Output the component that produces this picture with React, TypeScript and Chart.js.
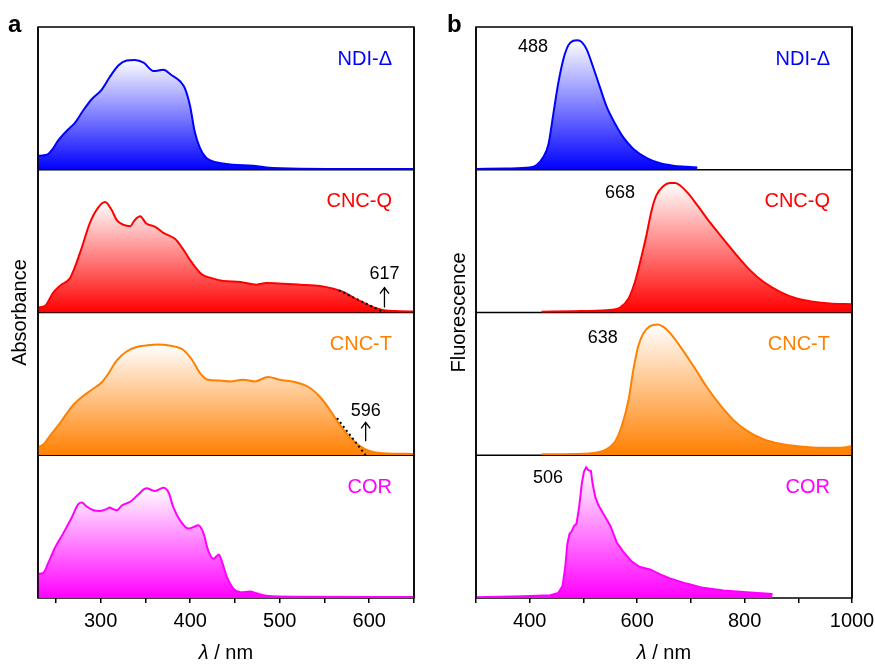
import React, { useEffect, useRef } from 'react';
import { Chart, registerables } from 'chart.js';
Chart.register(...registerables);

const FONT = '"Liberation Sans", Arial, Helvetica, sans-serif';

// ---------- Panel a : absorbance ----------
const absNdiX = [230, 240, 247, 252, 258, 265, 271, 281, 290, 301, 310, 320, 329, 338, 348, 359, 370, 379, 389, 394, 400, 405, 411, 418, 430, 448, 470, 485, 523, 560, 600, 650];
const absNdiY = [0.098, 0.105, 0.15, 0.2, 0.245, 0.29, 0.326, 0.42, 0.494, 0.56, 0.648, 0.732, 0.765, 0.769, 0.75, 0.692, 0.70, 0.664, 0.618, 0.571, 0.443, 0.268, 0.152, 0.082, 0.051, 0.035, 0.028, 0.016, 0.007, 0.006, 0.005, 0.005];

const absQX = [230, 238, 247, 255, 266, 277, 288, 297, 305, 312, 318, 325, 333, 338, 344, 351, 361, 370, 383, 391, 402, 413, 422, 437, 456, 474, 485, 504, 523, 545, 560, 571, 582, 593, 605, 616, 634, 650];
const absQY = [0.035, 0.047, 0.14, 0.19, 0.244, 0.419, 0.628, 0.733, 0.774, 0.721, 0.647, 0.616, 0.605, 0.647, 0.674, 0.623, 0.6, 0.558, 0.516, 0.453, 0.349, 0.267, 0.244, 0.221, 0.214, 0.195, 0.207, 0.202, 0.195, 0.186, 0.167, 0.144, 0.105, 0.07, 0.035, 0.016, 0.009, 0.007];

const absTX = [230, 236, 243, 256, 268, 279, 290, 301, 309, 318, 329, 340, 351, 364, 378, 392, 402, 411, 420, 433, 445, 459, 472, 487, 500, 519, 534, 545, 556, 567, 579, 590, 601, 616, 650];
const absTY = [0.058, 0.075, 0.133, 0.238, 0.343, 0.408, 0.459, 0.51, 0.576, 0.664, 0.727, 0.758, 0.769, 0.776, 0.767, 0.739, 0.669, 0.576, 0.529, 0.524, 0.517, 0.529, 0.517, 0.548, 0.529, 0.51, 0.471, 0.408, 0.319, 0.214, 0.121, 0.063, 0.028, 0.014, 0.009];

const absCorX = [230, 236, 241, 249, 258, 268, 275, 279, 284, 292, 299, 307, 310, 314, 318, 324, 333, 342, 351, 361, 370, 376, 381, 389, 398, 404, 409, 415, 420, 426, 432, 435, 441, 448, 456, 467, 474, 485, 523, 650];
const absCorY = [0.169, 0.176, 0.239, 0.352, 0.451, 0.568, 0.657, 0.669, 0.643, 0.615, 0.61, 0.624, 0.634, 0.622, 0.615, 0.65, 0.674, 0.725, 0.768, 0.749, 0.772, 0.737, 0.638, 0.54, 0.486, 0.498, 0.509, 0.451, 0.333, 0.275, 0.305, 0.263, 0.146, 0.068, 0.04, 0.045, 0.033, 0.016, 0.009, 0.007];

// onset tangents (dotted) and onset markers
const tanQX = [566, 617];
const tanQY = [0.155, 0];
const tanTX = [564, 596];
const tanTY = [0.26, 0];
const onsetQ = { x: 617, from: 0.035, to: 0.175, labelY: 0.27, text: '617' };
const onsetT = { x: 596, from: 0.098, to: 0.23, labelY: 0.31, text: '596' };

const absTickValues = [250, 300, 350, 400, 450, 500, 550, 600, 650];
const absTickLabels = [300, 400, 500, 600];

// ---------- Panel b : fluorescence ----------
const fluNdiX = [300, 357, 400, 413, 425, 435, 444, 453, 463, 472, 481, 489, 497, 506, 518, 531, 543, 559, 574, 593, 618, 643, 667, 692, 712];
const fluNdiY = [0.005, 0.009, 0.016, 0.033, 0.087, 0.18, 0.392, 0.603, 0.779, 0.873, 0.904, 0.908, 0.894, 0.843, 0.72, 0.575, 0.444, 0.322, 0.228, 0.146, 0.082, 0.045, 0.028, 0.021, 0.016];

const fluQX = [422, 481, 543, 568, 584, 596, 608, 618, 627, 636, 649, 661, 671, 680, 695, 714, 736, 761, 785, 810, 835, 866, 897, 928, 959, 1000];
const fluQY = [0.005, 0.009, 0.016, 0.035, 0.098, 0.215, 0.39, 0.554, 0.717, 0.822, 0.886, 0.907, 0.907, 0.89, 0.834, 0.741, 0.629, 0.512, 0.402, 0.297, 0.215, 0.145, 0.098, 0.075, 0.063, 0.058];

const fluTX = [422, 481, 525, 543, 559, 571, 584, 593, 602, 612, 624, 638, 649, 661, 680, 705, 729, 754, 779, 804, 835, 866, 903, 947, 978, 996, 1000];
const fluTY = [0.007, 0.009, 0.019, 0.042, 0.096, 0.201, 0.389, 0.6, 0.763, 0.857, 0.904, 0.916, 0.899, 0.857, 0.763, 0.623, 0.482, 0.354, 0.248, 0.173, 0.112, 0.08, 0.061, 0.052, 0.052, 0.061, 0.066];

const fluCorX = [300, 388, 438, 453, 461, 466, 470, 474, 478, 483, 487, 492, 497, 501, 505, 509, 514, 517, 522, 528, 537, 550, 562, 574, 590, 605, 624, 643, 661, 692, 723, 761, 804, 852];
const fluCorY = [0.005, 0.012, 0.019, 0.035, 0.083, 0.212, 0.377, 0.448, 0.467, 0.507, 0.519, 0.637, 0.802, 0.884, 0.915, 0.896, 0.889, 0.802, 0.708, 0.649, 0.59, 0.507, 0.389, 0.325, 0.255, 0.217, 0.2, 0.165, 0.137, 0.101, 0.071, 0.052, 0.04, 0.028];

const peakLabels = [
  { x: 406, y: 0.86, axis: 'y1', text: '488' },
  { x: 568, y: 0.84, axis: 'y2', text: '668' },
  { x: 536, y: 0.82, axis: 'y3', text: '638' },
  { x: 434, y: 0.84, axis: 'y4', text: '506' },
];

const fluTickValues = [300, 400, 500, 600, 700, 800, 900, 1000];
const fluTickLabels = [400, 600, 800, 1000];

const names = ['NDI-Δ', 'CNC-Q', 'CNC-T', 'COR'];
const colors = ['#0000ff', '#ff0000', '#ff8000', '#ff00ff'];
const yIds = ['y1', 'y2', 'y3', 'y4'];

type Series = { x: number[]; y: number[]; smooth: boolean };

function makePanel(canvas: HTMLCanvasElement, cfg: any) {
  const series: Series[] = cfg.series;
  const datasets: any[] = series.map((s, i) => {
    const peak = Math.max(...s.y);
    return {
      label: names[i],
      data: s.x.map((x, j) => ({ x, y: s.y[j] })),
      yAxisID: yIds[i],
      borderColor: colors[i],
      borderWidth: 2,
      pointRadius: 0,
      fill: 'origin',
      order: 1,
      cubicInterpolationMode: s.smooth ? 'monotone' : 'default',
      tension: 0,
      backgroundColor: (ctx: any) => {
        const chart = ctx.chart;
        const scale = chart.scales[yIds[i]];
        if (!chart.chartArea || !scale) return colors[i];
        const g = chart.ctx.createLinearGradient(0, scale.getPixelForValue(peak), 0, scale.getPixelForValue(0));
        g.addColorStop(0, 'rgba(255,255,255,1)');
        g.addColorStop(1, colors[i]);
        return g;
      },
    };
  });
  (cfg.tangents || []).forEach((t: any) => {
    datasets.push({
      label: 'tangent',
      data: t.x.map((x: number, j: number) => ({ x, y: t.y[j] })),
      yAxisID: t.axis,
      borderColor: '#000',
      borderWidth: 2,
      borderDash: [2, 3],
      pointRadius: 0,
      fill: false,
      order: 0,
    });
  });

  const decor = {
    id: 'decor',
    beforeDatasetsDraw(chart: any) {
      const { ctx, chartArea: ca } = chart;
      ctx.save();
      ctx.strokeStyle = '#000';
      ctx.lineWidth = 1.5;
      ctx.strokeRect(ca.left, ca.top, ca.right - ca.left, ca.bottom - ca.top);
      ['y1', 'y2', 'y3'].forEach((id) => {
        const b = chart.scales[id].getPixelForValue(0);
        ctx.beginPath();
        ctx.moveTo(ca.left, b);
        ctx.lineTo(ca.right, b);
        ctx.stroke();
      });
      ctx.restore();
    },
    afterDatasetsDraw(chart: any) {
      const { ctx, chartArea: ca } = chart;
      const xs = chart.scales.x;
      ctx.save();
      ctx.strokeStyle = '#000';
      ctx.lineWidth = 1.5;
      ctx.beginPath();
      ctx.moveTo(ca.left, ca.top);
      ctx.lineTo(ca.left, ca.bottom);
      ctx.moveTo(ca.right, ca.top);
      ctx.lineTo(ca.right, ca.bottom);
      ctx.stroke();

      // series names
      ctx.font = `20px ${FONT}`;
      ctx.textAlign = 'right';
      ctx.textBaseline = 'middle';
      yIds.forEach((id, i) => {
        ctx.fillStyle = colors[i];
        ctx.fillText(names[i], ca.right - 22, chart.scales[id].top + 32);
      });

      // onset markers
      ctx.fillStyle = '#000';
      ctx.font = `18px ${FONT}`;
      ctx.textAlign = 'center';
      (cfg.onsets || []).forEach((o: any) => {
        const sc = chart.scales[o.axis];
        const px = xs.getPixelForValue(o.x);
        const y0 = sc.getPixelForValue(o.from);
        const y1 = sc.getPixelForValue(o.to);
        ctx.lineWidth = 1.3;
        ctx.beginPath();
        ctx.moveTo(px, y0);
        ctx.lineTo(px, y1);
        ctx.moveTo(px - 4.5, y1 + 6);
        ctx.lineTo(px, y1);
        ctx.lineTo(px + 4.5, y1 + 6);
        ctx.stroke();
        ctx.fillText(o.text, px, sc.getPixelForValue(o.labelY));
      });
      (cfg.peaks || []).forEach((p: any) => {
        const sc = chart.scales[p.axis];
        ctx.fillText(p.text, xs.getPixelForValue(p.x), sc.getPixelForValue(p.y));
      });

      // y title
      ctx.save();
      ctx.translate(cfg.yTitleX, (ca.top + ca.bottom) / 2);
      ctx.rotate(-Math.PI / 2);
      ctx.font = `20px ${FONT}`;
      ctx.textAlign = 'center';
      ctx.textBaseline = 'middle';
      ctx.fillText(cfg.yTitle, 0, 0);
      ctx.restore();

      // x title: italic λ + " / nm"
      const cx = (ca.left + ca.right) / 2;
      const ty = 653;
      ctx.textBaseline = 'middle';
      ctx.textAlign = 'left';
      ctx.font = `italic 20px ${FONT}`;
      const w1 = ctx.measureText('λ').width;
      ctx.font = `20px ${FONT}`;
      const w2 = ctx.measureText(' / nm').width;
      const sx = cx - (w1 + w2) / 2;
      ctx.font = `italic 20px ${FONT}`;
      ctx.fillText('λ', sx, ty);
      ctx.font = `20px ${FONT}`;
      ctx.fillText(' / nm', sx + w1, ty);

      // panel letter
      ctx.font = `bold 24px ${FONT}`;
      ctx.textBaseline = 'alphabetic';
      ctx.fillText(cfg.letter, cfg.letterX, 32);
      ctx.restore();
    },
  };

  const yScales: any = {};
  yIds.forEach((id, i) => {
    yScales[id] = {
      type: 'linear',
      position: 'left',
      stack: 'panel',
      stackWeight: 1,
      weight: 4 - i,
      min: 0,
      max: 1,
      display: false,
    };
  });

  return new Chart(canvas, {
    type: 'line',
    data: { datasets },
    plugins: [decor],
    options: {
      animation: false,
      responsive: false,
      events: [],
      layout: { padding: cfg.padding },
      plugins: { legend: { display: false }, tooltip: { enabled: false } },
      scales: {
        x: {
          type: 'linear',
          position: 'bottom',
          min: cfg.xMin,
          max: cfg.xMax,
          afterBuildTicks: (sc: any) => {
            sc.ticks = cfg.tickValues.map((v: number) => ({ value: v }));
          },
          ticks: {
            autoSkip: false,
            maxRotation: 0,
            padding: 6,
            color: '#000',
            font: { family: FONT, size: 20 },
            callback: (v: any) => (cfg.tickLabels.includes(Number(v)) ? String(v) : ''),
          },
          grid: { display: true, drawOnChartArea: false, drawTicks: true, tickLength: 5, color: '#000', lineWidth: 1.5 },
          border: { display: false },
        },
        ...yScales,
      },
    } as any,
  });
}

const panelA = {
  series: [
    { x: absNdiX, y: absNdiY, smooth: true },
    { x: absQX, y: absQY, smooth: true },
    { x: absTX, y: absTY, smooth: true },
    { x: absCorX, y: absCorY, smooth: true },
  ],
  tangents: [
    { x: tanQX, y: tanQY, axis: 'y2' },
    { x: tanTX, y: tanTY, axis: 'y3' },
  ],
  onsets: [
    { ...onsetQ, axis: 'y2' },
    { ...onsetT, axis: 'y3' },
  ],
  peaks: [],
  xMin: 230,
  xMax: 650,
  tickValues: absTickValues,
  tickLabels: absTickLabels,
  padding: { left: 38, right: 26, top: 27, bottom: 26 },
  yTitle: 'Absorbance',
  yTitleX: 20,
  letter: 'a',
  letterX: 8,
};

const panelB = {
  series: [
    { x: fluNdiX, y: fluNdiY, smooth: true },
    { x: fluQX, y: fluQY, smooth: true },
    { x: fluTX, y: fluTY, smooth: true },
    { x: fluCorX, y: fluCorY, smooth: false },
  ],
  tangents: [],
  onsets: [],
  peaks: peakLabels,
  xMin: 300,
  xMax: 1000,
  tickValues: fluTickValues,
  tickLabels: fluTickLabels,
  padding: { left: 36, right: 48, top: 27, bottom: 26 },
  yTitle: 'Fluorescence',
  yTitleX: 19,
  letter: 'b',
  letterX: 7,
};

export default function App() {
  const aRef = useRef<HTMLCanvasElement>(null);
  const bRef = useRef<HTMLCanvasElement>(null);
  useEffect(() => {
    const ca = makePanel(aRef.current!, panelA);
    const cb = makePanel(bRef.current!, panelB);
    return () => {
      ca.destroy();
      cb.destroy();
    };
  }, []);
  return (
    <div style={{ position: 'fixed', left: 0, top: 0, width: 875, height: 665, overflow: 'hidden', background: '#fff' }}>
      <canvas ref={aRef} width={440} height={665} style={{ position: 'absolute', left: 0, top: 0, width: 440, height: 665 }} />
      <canvas ref={bRef} width={460} height={665} style={{ position: 'absolute', left: 440, top: 0, width: 460, height: 665 }} />
    </div>
  );
}
